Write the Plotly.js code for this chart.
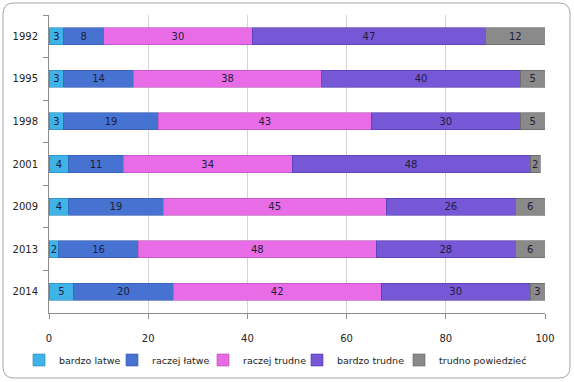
<!DOCTYPE html>
<html><head><meta charset="utf-8">
<script src="https://cdn.plot.ly/plotly-3.0.1.min.js"></script>
<style>html,body{margin:0;padding:0;background:#fff}#chart{width:574px;height:382px}</style>
</head><body><div id="chart"></div>
<script>
var years = ['1992','1995','1998','2001','2009','2013','2014'];
var seriesNames = ['bardzo latwe','raczej łatwe','raczej trudne','bardzo trudne','trudno powiedzieć'];
var bardzoLatwe = [3,3,3,4,4,2,5];
var raczejLatwe = [8,14,19,11,19,16,20];
var raczejTrudne = [30,38,43,34,45,48,42];
var bardzoTrudne = [47,40,30,48,26,28,30];
var trudnoPowiedziec = [12,5,5,2,6,6,3];
var xTicks = [0,20,40,60,80,100];

var values = [bardzoLatwe, raczejLatwe, raczejTrudne, bardzoTrudne, trudnoPowiedziec];
var colors = ['#3fb2e8','#4673d2','#e86ce6','#7657d6','#8a8a8a'];
var lines = ['#2a86b8','#2f55a8','#b44cb4','#4e36a8','#5e5e5e'];
var legendSymbolPx = [44,137,228,322,424];

var W=574,H=382,ml=49,mr=29,mt=15,mb=69;
var pw=W-ml-mr, ph=H-mt-mb;
function px(x){return ((x-ml)/pw).toFixed(5);}
function py(y){return ((H-mb-y)/ph).toFixed(5);}

var traces = values.map(function(v,i){
  return {type:'bar',orientation:'h',name:seriesNames[i],y:years,x:v,
    legend: i===0 ? 'legend' : 'legend'+(i+1),
    text:v.map(String),textposition:'inside',insidetextanchor:'middle',constraintext:'none',textangle:0,
    textfont:{family:'DejaVu Sans',size:10,color:'#1e1e3c'},
    marker:{color:colors[i],line:{color:lines[i],width:0.6}},hoverinfo:'x+name'};
});

// rounded border
var L=3,T=3,R=570,B=378,r=11;
var path='M'+px(L+r)+','+py(T)+' L'+px(R-r)+','+py(T)+' Q'+px(R)+','+py(T)+' '+px(R)+','+py(T+r)+
 ' L'+px(R)+','+py(B-r)+' Q'+px(R)+','+py(B)+' '+px(R-r)+','+py(B)+
 ' L'+px(L+r)+','+py(B)+' Q'+px(L)+','+py(B)+' '+px(L)+','+py(B-r)+
 ' L'+px(L)+','+py(T+r)+' Q'+px(L)+','+py(T)+' '+px(L+r)+','+py(T)+' Z';

var layout = {
  width:W,height:H,margin:{l:ml,r:mr,t:mt,b:mb,pad:0,autoexpand:false},
  paper_bgcolor:'#ffffff',plot_bgcolor:'#ffffff',
  barmode:'stack',bargap:0.6,showlegend:true,
  font:{family:'DejaVu Sans',size:10,color:'#222'},
  xaxis:{range:[0,100],tickvals:xTicks,ticktext:xTicks.map(String),showgrid:true,gridcolor:'#d4d4d4',gridwidth:1,
    showline:true,linecolor:'#8c8c8c',linewidth:1,ticks:'outside',ticklen:5,tickcolor:'#8c8c8c',
    zeroline:false,tickfont:{size:10,color:'#222'},ticklabelstandoff:11,fixedrange:true},
  yaxis:{type:'category',autorange:'reversed',showline:true,linecolor:'#8c8c8c',linewidth:1,
    ticks:'outside',tickson:'boundaries',ticklen:5,tickcolor:'#8c8c8c',showgrid:false,
    tickfont:{size:10,color:'#222'},ticklabelstandoff:8,fixedrange:true},
  shapes:[{type:'path',xref:'paper',yref:'paper',path:path,line:{color:'#a6a6a6',width:1},fillcolor:'rgba(0,0,0,0)',layer:'below'}]
};
legendSymbolPx.forEach(function(sx,i){
  var key = i===0 ? 'legend' : 'legend'+(i+1);
  layout[key] = {orientation:'h',xref:'container',yref:'container',x:(sx-25)/W,xanchor:'left',y:(H-360)/H,yanchor:'middle',
    font:{size:9.5,color:'#222'},itemwidth:30,bgcolor:'rgba(0,0,0,0)',borderwidth:0};
});
Plotly.newPlot('chart',traces,layout,{displayModeBar:false,staticPlot:true});
</script></body></html>
